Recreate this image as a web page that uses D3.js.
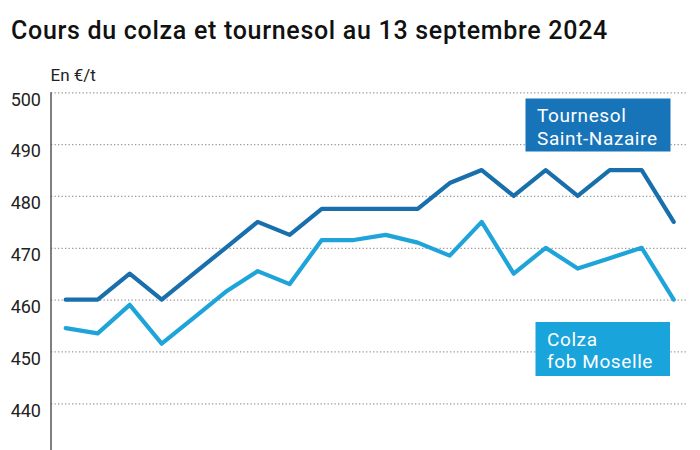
<!DOCTYPE html>
<html><head><meta charset="utf-8">
<script src="https://cdn.jsdelivr.net/npm/d3@7"></script>
<style>
html,body{margin:0;padding:0;background:#fff;}
svg{display:block;font-family:Roboto,"Noto Sans",sans-serif;}
</style></head>
<body><svg id="c" width="700" height="450"></svg>
<script>
const categories = d3.range(1, 21); // 20 relevés successifs
const tournesol = [460,460,465,460,465,470,475,472.5,477.5,477.5,477.5,477.5,482.5,485,480,485,480,485,485,475];
const colza = [454.5,453.5,459,451.5,456.5,461.5,465.5,463,471.5,471.5,472.5,471,468.5,475,465,470,466,468,470,460];
const yTicks = [440,450,460,470,480,490,500];
const title = "Cours du colza et tournesol au 13 septembre 2024";
const unit = "En €/t";

const svg = d3.select("#c");
const x = d3.scalePoint().domain(categories).range([65.7, 673.7]);
const y = d3.scaleLinear().domain([440, 500]).range([403.3, 92.3]);

svg.append("text").attr("x", 11).attr("y", 39).attr("font-size", 25).attr("font-weight", 500)
  .attr("letter-spacing", 0.7).attr("fill", "#111").text(title);
svg.append("text").attr("x", 50.5).attr("y", 80.5).attr("font-size", 17).attr("fill", "#222").text(unit);

// gridlines
const grid = svg.append("g").call(d3.axisLeft(y).tickValues(yTicks).tickSize(-(687 - 51)).tickFormat(""))
  .attr("transform", "translate(51,0)");
grid.select(".domain").remove();
grid.selectAll(".tick line").attr("stroke", "#999").attr("stroke-width", 1.2).attr("stroke-dasharray", "1.3,2.2");

// tick labels
const lab = svg.append("g").attr("transform", "translate(41,0)")
  .call(d3.axisLeft(y).tickValues(yTicks).tickSize(0).tickPadding(0));
lab.select(".domain").remove();
lab.selectAll(".tick text").attr("font-size", 18).attr("font-family", "Roboto, sans-serif")
  .attr("fill", "#222").attr("dy", 12.8);

// vertical axis line
svg.append("line").attr("x1", 51).attr("x2", 51).attr("y1", y(500)).attr("y2", 450)
  .attr("stroke", "#555").attr("stroke-width", 1.5);

const line = d3.line().x((d, i) => x(categories[i])).y(d => y(d));
svg.append("path").datum(colza).attr("d", line).attr("fill", "none").attr("stroke", "#1fa4da")
  .attr("stroke-width", 4.2).attr("stroke-linejoin", "round").attr("stroke-linecap", "round");
svg.append("path").datum(tournesol).attr("d", line).attr("fill", "none").attr("stroke", "#196fac")
  .attr("stroke-width", 4.2).attr("stroke-linejoin", "round").attr("stroke-linecap", "round");

function label(x0, y0, w, h, color, lines) {
  const g = svg.append("g");
  g.append("rect").attr("x", x0).attr("y", y0).attr("width", w).attr("height", h).attr("fill", color);
  lines.forEach((t, i) => g.append("text").attr("x", x0 + 11.5).attr("y", y0 + 23.8 + i * 22.4)
    .attr("font-size", 19).attr("letter-spacing", 0.6).attr("fill", "#fff").text(t));
}
label(525.5, 98.5, 145, 53, "#1874b9", ["Tournesol", "Saint-Nazaire"]);
label(535.5, 322, 134.5, 54, "#19a4dc", ["Colza", "fob Moselle"]);
</script></body></html>
